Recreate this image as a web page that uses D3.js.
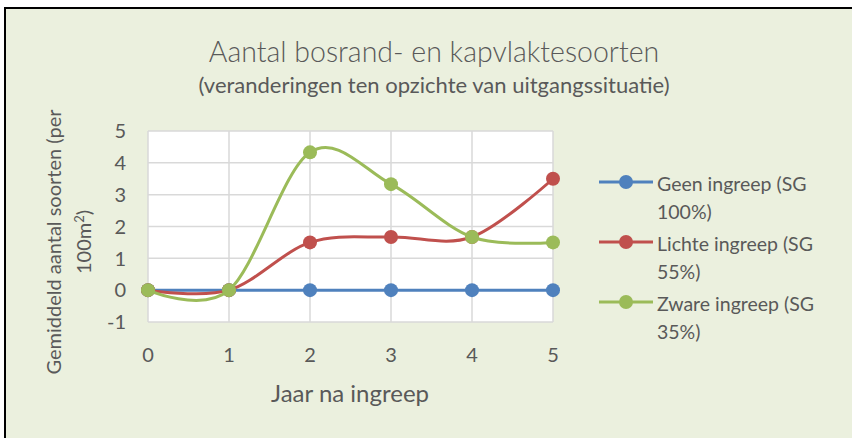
<!DOCTYPE html>
<html>
<head>
<meta charset="utf-8">
<script src="https://cdn.jsdelivr.net/npm/d3@7"></script>
<style>
  body { margin: 0; background: #fff; }
  text { font-family: Lato, 'Open Sans', sans-serif; fill: #595959; }
</style>
</head>
<body>
<div id="chart"></div>
<script>
// data
let years = [0, 1, 2, 3, 4, 5]
let geen = [0, 0, 0, 0, 0, 0]
let lichte = [0, 0, 1.5, 1.67, 1.67, 3.5]
let zware = [0, 0, 4.33, 3.33, 1.67, 1.5]
let yTicks = [-1, 0, 1, 2, 3, 4, 5]
let seriesNames = ['Geen ingreep (SG|100%)', 'Lichte ingreep (SG|55%)', 'Zware ingreep (SG|35%)']
let colors = ['#4F81BD', '#C0504D', '#9BBB59']

let width = 852
let height = 438

let svg = d3
  .select('#chart')
  .append('svg')
  .attr('width', width)
  .attr('height', height)

// chart area background + border
svg
  .append('rect')
  .attr('x', 5)
  .attr('y', 8)
  .attr('width', 900)
  .attr('height', 500)
  .attr('fill', '#EBF0DE')
  .attr('stroke', '#000')
  .attr('stroke-width', 2)

let xScale = d3.scaleLinear().domain([0, 5]).range([148, 553])
let yScale = d3.scaleLinear().domain([-1, 5]).range([322, 131])

// plot area
svg
  .append('rect')
  .attr('x', xScale(0))
  .attr('y', yScale(5))
  .attr('width', xScale(5) - xScale(0))
  .attr('height', yScale(-1) - yScale(5))
  .attr('fill', '#fff')

// gridlines
svg
  .append('g')
  .selectAll('line')
  .data(yTicks)
  .enter()
  .append('line')
  .attr('x1', xScale(0))
  .attr('x2', xScale(5))
  .attr('y1', d => yScale(d))
  .attr('y2', d => yScale(d))
  .attr('stroke', '#D9D9D9')
  .attr('stroke-width', 1.5)

svg
  .append('g')
  .selectAll('line')
  .data(years)
  .enter()
  .append('line')
  .attr('x1', d => xScale(d))
  .attr('x2', d => xScale(d))
  .attr('y1', yScale(5))
  .attr('y2', yScale(-1))
  .attr('stroke', '#D9D9D9')
  .attr('stroke-width', 1.5)

// tick labels
svg
  .append('g')
  .selectAll('text')
  .data(yTicks)
  .enter()
  .append('text')
  .attr('x', 126)
  .attr('y', d => yScale(d))
  .attr('dy', '0.36em')
  .attr('text-anchor', 'end')
  .style('font-size', '20px')
  .text(d => d)

svg
  .append('g')
  .selectAll('text')
  .data(years)
  .enter()
  .append('text')
  .attr('x', d => xScale(d))
  .attr('y', 362)
  .attr('text-anchor', 'middle')
  .style('font-size', '20px')
  .text(d => d)

// lines and markers
let line = d3
  .line()
  .x((d, i) => xScale(years[i]))
  .y(d => yScale(d))
  .curve(d3.curveCardinal.tension(0))

let allSeries = [geen, lichte, zware]
allSeries.forEach(function (vals, s) {
  let g = svg.append('g')
  g.append('path')
    .attr('d', line(vals))
    .attr('fill', 'none')
    .attr('stroke', colors[s])
    .attr('stroke-width', 3)
    .attr('stroke-linecap', 'round')
  g.selectAll('circle')
    .data(vals)
    .enter()
    .append('circle')
    .attr('cx', (d, i) => xScale(years[i]))
    .attr('cy', d => yScale(d))
    .attr('r', 7)
    .attr('fill', colors[s])
})

// titles
svg
  .append('text')
  .attr('x', 434)
  .attr('y', 62)
  .attr('text-anchor', 'middle')
  .style('font-size', '28.5px')
  .style('font-weight', 300)
  .text('Aantal bosrand- en kapvlaktesoorten')

svg
  .append('text')
  .attr('x', 434)
  .attr('y', 93)
  .attr('text-anchor', 'middle')
  .style('font-size', '22px')
  .text('(veranderingen ten opzichte van uitgangssituatie)')

svg
  .append('text')
  .attr('x', 350)
  .attr('y', 402)
  .attr('text-anchor', 'middle')
  .style('font-size', '24px')
  .text('Jaar na ingreep')

// rotated y label, two lines
let yLab = svg
  .append('text')
  .attr('transform', 'translate(61,242) rotate(-90)')
  .attr('text-anchor', 'middle')
  .style('font-size', '20px')
yLab.append('tspan').attr('x', 0).attr('y', 0).text('Gemiddeld aantal soorten (per')
let l2 = yLab.append('tspan').attr('x', 0).attr('y', 30)
l2.append('tspan').text('100m')
l2.append('tspan').attr('dy', -7).style('font-size', '13px').text('2')
l2.append('tspan').attr('dy', 7).text(')')

// legend
let legend = svg
  .append('g')
  .selectAll('g')
  .data(seriesNames)
  .enter()
  .append('g')
  .attr('transform', (d, i) => 'translate(0,' + (182 + i * 60) + ')')

legend
  .append('line')
  .attr('x1', 599)
  .attr('x2', 653)
  .attr('stroke', (d, i) => colors[i])
  .attr('stroke-width', 3)
legend
  .append('circle')
  .attr('cx', 626)
  .attr('r', 7)
  .attr('fill', (d, i) => colors[i])
legend
  .append('text')
  .attr('x', 657)
  .attr('y', 9)
  .style('font-size', '19.5px')
  .each(function (d) {
    let parts = d.split('|')
    d3.select(this).append('tspan').attr('x', 657).text(parts[0])
    d3.select(this).append('tspan').attr('x', 657).attr('dy', 28).text(parts[1])
  })
</script>
</body>
</html>
